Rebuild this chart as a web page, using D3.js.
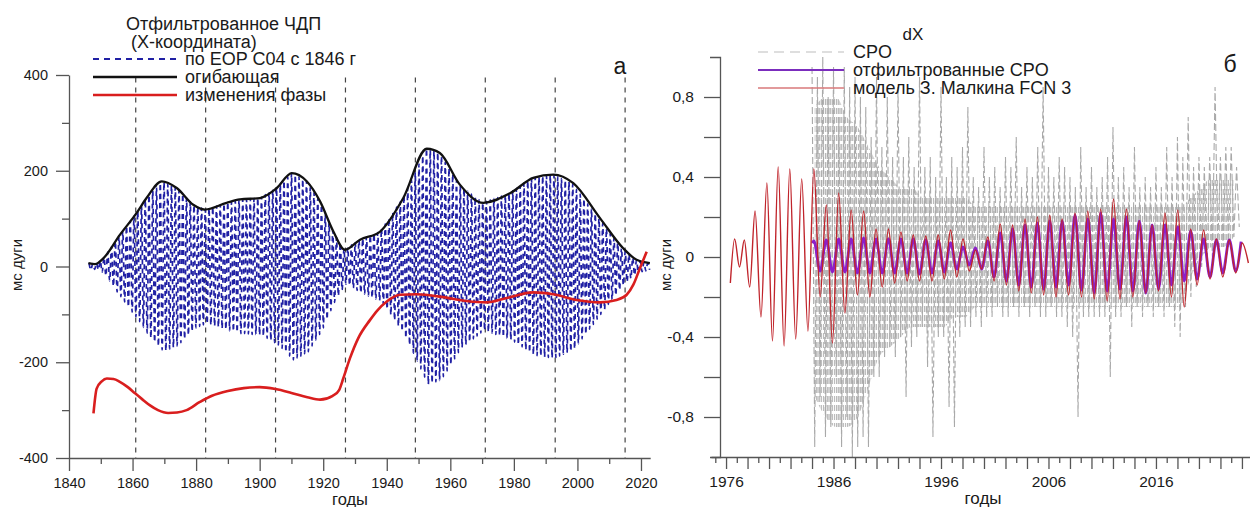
<!DOCTYPE html>
<html>
<head>
<meta charset="utf-8">
<script src="https://cdn.jsdelivr.net/npm/d3@7"></script>
<style>
  body { margin: 0; background: #fff; }
  svg text { font-family: "Liberation Sans", Arial, Helvetica, sans-serif; fill: #1a1a1a; }
</style>
</head>
<body>
<svg id="chart" width="1250" height="507"></svg>
<script>
// ===================== Panel (а): filtered FCN, X coordinate =====================
// Envelope of the filtered FCN signal (mas)
const envYears = [1846.1,1848.2,1850.8,1856.0,1861.3,1864.4,1869.2,1873.9,1879.1,1882.8,1889.6,1893.8,1900.1,1905.4,1910.1,1914.8,1919.0,1923.2,1926.8,1931.6,1937.9,1945.2,1952.6,1956.7,1963.0,1970.4,1978.8,1986.1,1992.4,1998.7,2007.1,2014.4,2018.6,2022.8];
const envVals  = [7,5,17,66,112,143,178,164,129,119,133,140,143,164,195,178,136,73,35,56,73,143,246,237,171,133,153,185,192,174,101,38,14,7];

// Phase change curve (plotted in mas-equivalent units)
const phaseYears = [1847.7,1848.7,1850.3,1851.9,1854,1856,1858.5,1860.8,1863,1865.5,1868,1871.2,1874,1877,1881.2,1885,1890,1895,1900,1905,1910,1915,1919,1923,1925,1926.3,1928.4,1931,1934.7,1937,1940,1944.2,1949.4,1957.8,1965.1,1971.4,1977.7,1986.1,1992.4,1999.8,2007.1,2012.3,2015.5,2017.6,2019.7,2021.8];
const phaseVals  = [-307,-255,-240,-234,-235,-241,-252,-265,-277,-290,-300,-306,-305,-300,-283,-270,-260,-254,-252,-256,-264,-273,-278,-270,-258,-234,-192,-150,-112,-92,-73,-59,-58,-64,-72,-75,-66,-54,-58,-70,-75,-70,-59,-38,-3,31];

// Filtered EOP C04 series: amplitude of each FCN cycle (mas), one value per cycle
const fcnStart = 1846.3;   // year of the first cycle maximum
const fcnPeriod = 1.18;    // FCN period, years
const fcnAmp = [7,6,7,12,19,30,41,53,63,74,
  84,95,105,115,127,139,149,158,166,174,
  176,172,169,166,159,151,143,135,128,125,
  122,119,122,124,126,129,131,134,135,137,
  140,140,141,142,142,143,145,150,154,159,
  164,171,179,187,195,191,187,182,178,166,
  154,142,128,110,92,75,61,49,37,39,
  45,50,55,58,62,65,68,71,79,89,
  101,112,124,135,149,164,181,197,214,231,
  246,243,241,238,230,218,205,193,180,169,
  163,157,151,145,139,133,136,139,142,144,
  147,150,153,158,163,168,174,179,184,186,
  187,189,190,191,190,187,183,180,177,172,
  161,151,141,131,121,110,100,90,79,69,
  60,49,39,32,25,18,13,11,9,7];

const markYears = [1861,1883,1905,1927,1949,1971,1993,2015];
const xTicksA = [1840,1860,1880,1900,1920,1940,1960,1980,2000,2020];
const xMinorA = [1850,1870,1890,1910,1930,1950,1970,1990,2010];
const yTicksA = [-400,-200,0,200,400];
const yMinorA = [-300,-100,100,300];

// ===================== Panel (б): dX =====================
// Malkin FCN 3 model: extrema of the curve
const modelYears = [1976.40,1976.80,1977.25,1977.70,1978.20,1978.70,1979.25,1979.80,1980.32,1980.85,1981.40,1981.93,1982.48,1983.04,1983.62,
  1984.17,1984.75,1985.33,1985.90,1986.48,1987.06,1987.64,1988.22,1988.80,1989.38,1989.95,1990.53,1991.11,1991.69,1992.27,1992.85,1993.42,1994.00,1994.58,1995.16,1995.74,1996.31,1996.89,1997.47,1998.05,1998.63,1999.21,1999.78,2000.36,2000.94,2001.51,2002.09,2002.66,2003.24,2003.82,2004.40,2004.97,2005.55,2006.12,2006.70,2007.27,2007.87,2008.47,2009.07,2009.66,2010.26,2010.86,2011.46,2012.05,2012.65,2013.25,2013.85,2014.45,2015.05,2015.64,2016.24,2016.84,2017.44,2018.03,2018.63,2019.23,2019.83,2020.43,2021.03,2021.62,2022.22,2022.82,2023.42,2024.02,2024.60];
const modelVals = [-0.13,0.09,-0.05,0.085,-0.15,0.23,-0.30,0.37,-0.42,0.45,-0.445,0.44,-0.41,0.39,-0.37,
  0.44,-0.20,0.26,-0.43,0.32,-0.28,0.235,-0.19,0.23,-0.20,0.14,-0.15,0.14,-0.13,0.125,-0.12,0.11,-0.12,0.105,-0.12,0.11,-0.11,0.135,-0.10,0.09,-0.07,0.035,-0.06,0.10,-0.12,0.165,-0.14,0.16,-0.17,0.19,-0.18,0.20,-0.19,0.21,-0.20,0.19,-0.19,0.22,-0.20,0.23,-0.21,0.24,-0.22,0.29,-0.21,0.24,-0.20,0.18,-0.18,0.16,-0.17,0.22,-0.20,0.235,-0.25,0.14,-0.14,0.135,-0.11,0.09,-0.10,0.085,-0.08,0.07,-0.03];

// Filtered CPO: extrema of the curve
const filtYears = [1984.02,1984.17,1984.75,1985.33,1985.90,1986.48,1987.06,1987.64,1988.22,1988.80,1989.38,1989.95,1990.53,1991.11,1991.69,1992.27,1992.85,1993.42,1994.00,1994.58,1995.16,1995.74,1996.31,1996.89,1997.47,1998.05,1998.63,1999.21,1999.78,2000.36,2000.94,2001.51,2002.09,2002.66,2003.24,2003.82,2004.40,2004.97,2005.55,2006.12,2006.70,2007.27,2007.87,2008.47,2009.07,2009.66,2010.26,2010.86,2011.46,2012.05,2012.65,2013.25,2013.85,2014.45,2015.05,2015.64,2016.24,2016.84,2017.44,2018.03,2018.63,2019.23,2019.83,2020.43,2021.03,2021.62,2022.22,2022.82,2023.42,2023.92];
const filtVals = [0.07,0.08,-0.07,0.085,-0.075,0.09,-0.075,0.09,-0.08,0.095,-0.08,0.09,-0.08,0.09,-0.08,0.09,-0.08,0.09,-0.085,0.085,-0.08,0.08,-0.075,0.07,-0.06,0.05,-0.04,0.045,-0.06,0.08,-0.10,0.12,-0.12,0.14,-0.14,0.16,-0.15,0.17,-0.16,0.18,-0.15,0.18,-0.14,0.21,-0.165,0.19,-0.18,0.22,-0.17,0.19,-0.16,0.20,-0.17,0.18,-0.18,0.16,-0.16,0.16,-0.14,0.15,-0.12,0.13,-0.11,0.09,-0.10,0.085,-0.08,0.085,-0.07,0.077];

// CPO observations: upper and lower excursions, half-year steps from 1984.0
const cpoStart = 1984.0, cpoStep = 0.5;
const cpoHi = [0.95,0.9,1.0,0.8,0.95,0.7,0.95,0.85,0.9,0.8,
  0.75,0.6,0.9,0.55,0.8,0.5,0.85,0.5,0.6,0.45,
  0.9,0.45,0.5,0.4,0.85,0.4,0.5,0.45,0.55,0.75,
  0.4,0.35,0.55,0.4,0.45,0.35,0.5,0.45,0.6,0.35,
  0.45,0.4,0.55,0.85,0.45,0.4,0.5,0.45,0.4,0.35,
  0.55,0.35,0.45,0.35,0.4,0.5,0.65,0.4,0.45,0.35,
  0.55,0.35,0.4,0.35,0.45,0.35,0.55,0.4,0.6,0.5,
  0.7,0.45,0.5,0.45,0.5,0.85,0.5,0.55,0.55,0.45];
const cpoLo = [-0.95,-0.7,-0.9,-0.85,-0.6,-0.95,-0.8,-1.0,-0.95,-0.9,
  -0.95,-0.6,-0.6,-0.5,-0.45,-0.5,-0.4,-0.7,-0.45,-0.4,
  -0.35,-0.55,-0.9,-0.4,-0.4,-0.75,-0.85,-0.4,-0.35,-0.35,
  -0.3,-0.35,-0.3,-0.3,-0.25,-0.3,-0.3,-0.25,-0.3,-0.25,
  -0.3,-0.25,-0.3,-0.3,-0.25,-0.3,-0.3,-0.35,-0.4,-0.8,
  -0.3,-0.3,-0.3,-0.3,-0.3,-0.6,-0.3,-0.3,-0.25,-0.35,
  -0.25,-0.3,-0.25,-0.3,-0.25,-0.3,-0.25,-0.35,-0.4,-0.25,
  -0.2,-0.15,-0.05,-0.05,0.0,0.05,0.05,0.05,0.1,0.15];
// Dense core of the CPO scatter, yearly
const coreYears = d3.range(1984, 2024);
const coreHi = [0.75,0.8,0.8,0.7,0.65,0.55,0.45,0.4,0.35,0.35,0.3,0.3,0.3,0.3,0.3,0.25,0.25,0.25,0.25,0.25,0.25,0.25,0.25,0.25,0.25,0.25,0.25,0.25,0.25,0.25,0.25,0.25,0.25,0.25,0.25,0.3,0.35,0.4,0.4,0.4];
const coreLo = [-0.7,-0.8,-0.85,-0.85,-0.8,-0.65,-0.5,-0.45,-0.4,-0.35,-0.35,-0.35,-0.35,-0.3,-0.3,-0.25,-0.25,-0.25,-0.25,-0.25,-0.25,-0.25,-0.25,-0.25,-0.25,-0.25,-0.25,-0.25,-0.25,-0.25,-0.25,-0.25,-0.25,-0.25,-0.25,-0.1,0.0,0.05,0.05,0.1];

const xLabelsB = [1976,1986,1996,2006,2016];
const yTicksB = [-0.8,-0.4,0,0.4,0.8];
const yMinorB = [-0.6,-0.2,0.2,0.6];

// ===================== drawing =====================
const svg = d3.select("#chart");
const axisColor = "#555";

// texture for the dense part of the CPO scatter: short vertical strokes
const defs = svg.append("defs");
const pat = defs.append("pattern").attr("id", "cpoTexture")
  .attr("patternUnits", "userSpaceOnUse").attr("width", 2.2).attr("height", 9);
pat.append("line").attr("x1", 0.7).attr("x2", 0.7).attr("y1", 0).attr("y2", 6)
  .attr("stroke", "#aaaaaa").attr("stroke-width", 1.15);

function styleAxis(g, fs) {
  g.select(".domain").attr("stroke", axisColor).attr("stroke-width", 1.3);
  g.selectAll(".tick line").attr("stroke", axisColor).attr("stroke-width", 1.3);
  g.selectAll(".tick text").attr("font-size", fs).attr("fill", "#1a1a1a")
    .style("font-family", '"Liberation Sans", Arial, sans-serif');
}

// ---------- panel (а) ----------
const xA = d3.scaleLinear().domain([1840, 2022.9]).range([69, 650.2]);
const yA = d3.scaleLinear().domain([-400, 400]).range([458, 75]);
const gA = svg.append("g");

gA.selectAll("line.mark").data(markYears).join("line").attr("class", "mark")
  .attr("x1", d => xA(d)).attr("x2", d => xA(d))
  .attr("y1", yA(395)).attr("y2", yA(-400))
  .attr("stroke", "#444").attr("stroke-width", 1.2).attr("stroke-dasharray", "5,5");

const bluePts = [];
fcnAmp.forEach((a, i) => {
  const t = fcnStart + i * fcnPeriod;
  bluePts.push([t, a]);
  bluePts.push([t + fcnPeriod / 2, -a]);
});
const lineA = d3.line().x(d => xA(d[0])).y(d => yA(d[1])).curve(d3.curveMonotoneX);
gA.append("path").datum(bluePts).attr("d", lineA)
  .attr("fill", "none").attr("stroke", "#2020a4").attr("stroke-width", 1.7)
  .attr("stroke-dasharray", "5,4");

gA.append("path").datum(envYears.map((t, i) => [t, envVals[i]])).attr("d", lineA)
  .attr("fill", "none").attr("stroke", "#111").attr("stroke-width", 2.3);

gA.append("path").datum(phaseYears.map((t, i) => [t, phaseVals[i]])).attr("d", lineA)
  .attr("fill", "none").attr("stroke", "#d91e1e").attr("stroke-width", 2.6);

const intFmt = d => String(d);
const axBA = gA.append("g").attr("transform", `translate(0,${yA(-400)})`)
  .call(d3.axisBottom(xA).tickValues(xTicksA).tickSize(13).tickSizeOuter(0).tickPadding(7).tickFormat(intFmt));
styleAxis(axBA, 14.5);
const axBAm = gA.append("g").attr("transform", `translate(0,${yA(-400)})`)
  .call(d3.axisBottom(xA).tickValues(xMinorA).tickSize(6).tickFormat(""));
axBAm.select(".domain").remove();
styleAxis(axBAm, 14.5);

const axLA = gA.append("g").attr("transform", `translate(${xA(1840)},0)`)
  .call(d3.axisLeft(yA).tickValues(yTicksA).tickSize(13).tickSizeOuter(0).tickPadding(8).tickFormat(intFmt));
styleAxis(axLA, 14.5);
const axLAm = gA.append("g").attr("transform", `translate(${xA(1840)},0)`)
  .call(d3.axisLeft(yA).tickValues(yMinorA).tickSize(7).tickFormat(""));
axLAm.select(".domain").remove();
styleAxis(axLAm, 14.5);

gA.append("text").attr("transform", "translate(22,265) rotate(-90)")
  .attr("text-anchor", "middle").attr("font-size", 15).text("мс дуги");
gA.append("text").attr("x", 350).attr("y", 505).attr("text-anchor", "middle")
  .attr("font-size", 16.5).text("годы");
gA.append("text").attr("x", 620).attr("y", 74).attr("text-anchor", "middle")
  .attr("font-size", 23).text("а");

// legend (а)
gA.append("text").attr("x", 126).attr("y", 30).attr("font-size", 18).text("Отфильтрованное ЧДП");
gA.append("text").attr("x", 131).attr("y", 48).attr("font-size", 18).text("(X-координата)");
const legA = [
  { y: 59, color: "#2020a4", dash: "6,5", w: 2, label: "по EOP C04 с 1846 г" },
  { y: 77, color: "#111", dash: null, w: 2.3, label: "огибающая" },
  { y: 95, color: "#d91e1e", dash: null, w: 2.6, label: "изменения фазы" }
];
legA.forEach(d => {
  gA.append("line").attr("x1", 93).attr("x2", 177).attr("y1", d.y).attr("y2", d.y)
    .attr("stroke", d.color).attr("stroke-width", d.w).attr("stroke-dasharray", d.dash);
  gA.append("text").attr("x", 185).attr("y", d.y + 6).attr("font-size", 18).text(d.label);
});

// ---------- panel (б) ----------
const xB = d3.scaleLinear().domain([1974.6, 2024.75]).range([711, 1250]);
const yB = d3.scaleLinear().domain([-1, 1]).range([457, 57]);
const gB = svg.append("g");
const lineB = d3.line().x(d => xB(d[0])).y(d => yB(d[1]));

// dense core of the CPO scatter
gB.append("path").datum(coreYears.map((t, i) => [t, coreLo[i], coreHi[i]]))
  .attr("d", d3.area().x(d => xB(d[0] + 0.25)).y0(d => yB(d[1])).y1(d => yB(d[2])).curve(d3.curveMonotoneX))
  .attr("fill", "url(#cpoTexture)");

// CPO series as a dashed trace between excursions
const cpoPts = [];
cpoHi.forEach((h, i) => {
  const t = cpoStart + i * cpoStep;
  cpoPts.push([t, h]);
  cpoPts.push([t + cpoStep / 2, cpoLo[i]]);
});
gB.append("path").datum(cpoPts).attr("d", lineB)
  .attr("fill", "none").attr("stroke", "#a9a9a9").attr("stroke-width", 1.1)
  .attr("stroke-dasharray", "7,3");

const smooth = d3.line().x(d => xB(d[0])).y(d => yB(d[1])).curve(d3.curveMonotoneX);
gB.append("path").datum(filtYears.map((t, i) => [t, filtVals[i]])).attr("d", smooth)
  .attr("fill", "none").attr("stroke", "#8c1fc9").attr("stroke-width", 2.8);
gB.append("path").datum(modelYears.map((t, i) => [t, modelVals[i]])).attr("d", smooth)
  .attr("fill", "none").attr("stroke", "#c0242b").attr("stroke-width", 1.4);

// x axis (б): yearly ticks, long ticks on even years
const evenYears = d3.range(1976, 2025, 2);
const oddYears = d3.range(1975, 2025, 2);
const axBB = gB.append("g").attr("transform", `translate(0,${yB(-1)})`)
  .call(d3.axisBottom(xB).tickValues(evenYears).tickSize(12).tickSizeOuter(0).tickPadding(7)
    .tickFormat(d => xLabelsB.includes(d) ? String(d) : ""));
styleAxis(axBB, 15.5);
const axBBm = gB.append("g").attr("transform", `translate(0,${yB(-1)})`)
  .call(d3.axisBottom(xB).tickValues(oddYears).tickSize(6).tickFormat(""));
axBBm.select(".domain").remove();
styleAxis(axBBm, 15.5);

const commaFmt = d => d === 0 ? "0" : d.toFixed(1).replace(".", ",");
const axLB = gB.append("g").attr("transform", "translate(720,0)")
  .call(d3.axisLeft(yB).tickValues(yTicksB).tickSize(16).tickSizeOuter(10).tickPadding(10).tickFormat(commaFmt));
styleAxis(axLB, 15.5);
const axLBm = gB.append("g").attr("transform", "translate(720,0)")
  .call(d3.axisLeft(yB).tickValues(yMinorB).tickSize(16).tickFormat(""));
axLBm.select(".domain").remove();
styleAxis(axLBm, 15.5);

gB.append("text").attr("transform", "translate(671,265) rotate(-90)")
  .attr("text-anchor", "middle").attr("font-size", 15).text("мс дуги");
gB.append("text").attr("x", 983).attr("y", 504).attr("text-anchor", "middle")
  .attr("font-size", 17).text("годы");
gB.append("text").attr("x", 1230).attr("y", 72).attr("text-anchor", "middle")
  .attr("font-size", 23).text("б");
gB.append("text").attr("x", 913).attr("y", 40).attr("text-anchor", "middle")
  .attr("font-size", 17).text("dX");

const legB = [
  { y: 52, color: "#bdbdbd", dash: "10,6", w: 1.2, label: "CPO" },
  { y: 70, color: "#7b2dbd", dash: null, w: 2.2, label: "отфильтрованные CPO" },
  { y: 88, color: "#d9787a", dash: null, w: 1.6, label: "модель З. Малкина FCN 3" }
];
legB.forEach(d => {
  gB.append("line").attr("x1", 758).attr("x2", 844).attr("y1", d.y).attr("y2", d.y)
    .attr("stroke", d.color).attr("stroke-width", d.w).attr("stroke-dasharray", d.dash);
  gB.append("text").attr("x", 853).attr("y", d.y + 6).attr("font-size", 18).text(d.label);
});
</script>
</body>
</html>
